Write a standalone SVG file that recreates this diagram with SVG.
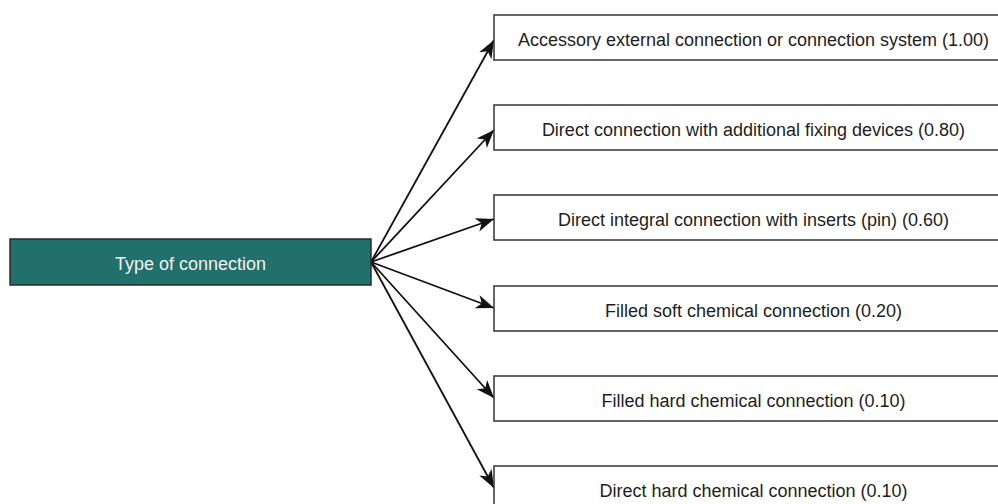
<svg xmlns="http://www.w3.org/2000/svg" width="998" height="504" viewBox="0 0 998 504">
<style>
.box{fill:#ffffff;stroke:#333333;stroke-width:1.5}
.src{fill:#22706b;stroke:#2a2a2a;stroke-width:1.5}
.t{font-family:"Liberation Sans",Arial,sans-serif;font-size:18px;fill:#1e1e1e;text-anchor:middle}
.tw{font-family:"Liberation Sans",Arial,sans-serif;font-size:18px;fill:#f2f2f2;text-anchor:middle}
.c{stroke:#111111;stroke-width:1.8;fill:none;marker-end:url(#ah)}
</style>
<defs>
<marker id="ah" markerUnits="userSpaceOnUse" markerWidth="20" markerHeight="16" refX="18" refY="7" orient="auto">
<path d="M0,0 L18,7 L0,14 L5,7 Z" fill="#111111"/>
</marker>
</defs>
<rect width="998" height="504" fill="#ffffff"/>
<g id="connectors">
<line class="c" x1="371" y1="262" x2="494" y2="40"/>
<line class="c" x1="371" y1="262" x2="494" y2="130"/>
<line class="c" x1="371" y1="262" x2="494" y2="219"/>
<line class="c" x1="371" y1="262" x2="494" y2="308"/>
<line class="c" x1="371" y1="262" x2="494" y2="398"/>
<line class="c" x1="371" y1="262" x2="494" y2="488"/>
</g>
<g id="type-of-connection">
<rect class="src" x="10" y="239" width="361" height="46"/>
<text class="tw" x="190.5" y="270">Type of connection</text>
</g>
<g id="accessory">
<rect class="box" x="494" y="15" width="520" height="45"/>
<text class="t" x="753.5" y="45.5">Accessory external connection or connection system (1.00)</text>
</g>
<g id="direct-fixing">
<rect class="box" x="494" y="105" width="520" height="45"/>
<text class="t" x="753.5" y="135.5">Direct connection with additional fixing devices (0.80)</text>
</g>
<g id="direct-integral">
<rect class="box" x="494" y="195" width="520" height="45"/>
<text class="t" x="753.5" y="225.5">Direct integral connection with inserts (pin) (0.60)</text>
</g>
<g id="filled-soft">
<rect class="box" x="494" y="286" width="520" height="45"/>
<text class="t" x="753.5" y="316.5">Filled soft chemical connection (0.20)</text>
</g>
<g id="filled-hard">
<rect class="box" x="494" y="376" width="520" height="45"/>
<text class="t" x="753.5" y="406.5">Filled hard chemical connection (0.10)</text>
</g>
<g id="direct-hard">
<rect class="box" x="494" y="466" width="520" height="45"/>
<text class="t" x="753.5" y="496.5">Direct hard chemical connection (0.10)</text>
</g>
</svg>
